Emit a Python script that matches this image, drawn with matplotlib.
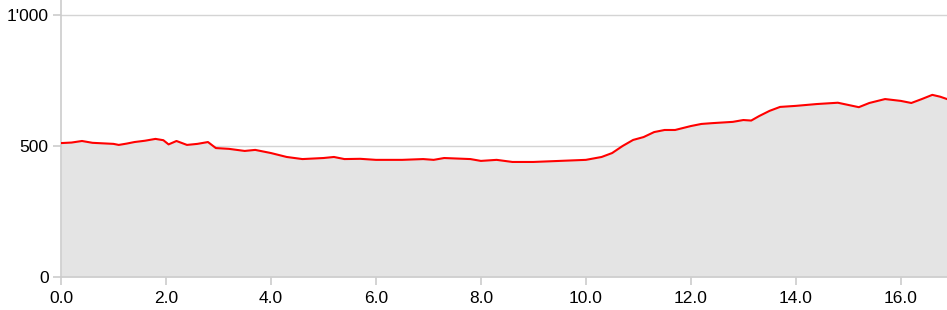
import matplotlib.pyplot as plt
from matplotlib.ticker import FuncFormatter

plt.rcParams['font.family'] = ['Liberation Sans', 'DejaVu Sans']

# distance along route (km) and elevation (m)
distance = [0.0, 0.2, 0.4, 0.6, 0.8, 1.0, 1.1, 1.25, 1.4, 1.6, 1.8, 1.95, 2.05,
            2.2, 2.4, 2.6, 2.8, 2.95, 3.2, 3.5, 3.7, 4.0, 4.3, 4.6, 5.0, 5.2,
            5.4, 5.7, 6.0, 6.5, 6.9, 7.1, 7.3, 7.8, 8.0, 8.3, 8.6, 9.0, 9.5,
            10.0, 10.3, 10.5, 10.7, 10.9, 11.1, 11.3, 11.5, 11.7, 12.0, 12.2,
            12.4, 12.8, 13.0, 13.15, 13.3, 13.5, 13.7, 14.0, 14.4, 14.8, 15.2,
            15.4, 15.7, 16.0, 16.2, 16.4, 16.6, 16.75, 16.88]
elevation = [511, 513, 519, 512, 510, 508, 504, 509, 515, 520, 527, 522, 506,
             519, 504, 508, 515, 492, 489, 481, 485, 473, 458, 450, 454, 458,
             450, 451, 447, 447, 450, 447, 454, 450, 443, 447, 439, 439, 443,
             447, 458, 473, 500, 523, 534, 553, 561, 561, 576, 584,
             587, 592, 599, 597, 614, 634, 649, 653, 660, 665, 648,
             664, 679, 672, 664, 679, 695, 688, 679]

y_ticks = [0, 500, 1000]
x_ticks = [0, 2, 4, 6, 8, 10, 12, 14, 16]

fig = plt.figure(figsize=(9.47, 3.10), dpi=100)
ax = fig.add_axes([61 / 947, 1 - 277 / 310, 1 - 61 / 947, 277 / 310])

ax.fill_between(distance, elevation, 0, color='#e4e4e4', lw=0, zorder=1)
ax.plot(distance, elevation, color='#ff0000', lw=1.5, zorder=3)

ax.set_xlim(0, 16.88)
ax.set_ylim(0, 1057)
ax.set_xticks(x_ticks)
ax.set_yticks(y_ticks)
ax.xaxis.set_major_formatter(FuncFormatter(lambda v, p: f"{v:.1f}"))
ax.yaxis.set_major_formatter(FuncFormatter(lambda v, p: f"{int(v):,}".replace(",", "'")))

ax.grid(axis='y', color='#d4d4d4', lw=1, zorder=0)
ax.set_axisbelow(True)
for s in ['top', 'right']:
    ax.spines[s].set_visible(False)
for s in ['left', 'bottom']:
    ax.spines[s].set_color('#cccccc')
    ax.spines[s].set_linewidth(1.2)
ax.tick_params(axis='both', colors='#cccccc', labelcolor='black', labelsize=12.5,
               length=6, width=1.2)
ax.tick_params(axis='x', pad=4)
ax.tick_params(axis='y', pad=3)

fig.savefig("out.png", dpi=100)
